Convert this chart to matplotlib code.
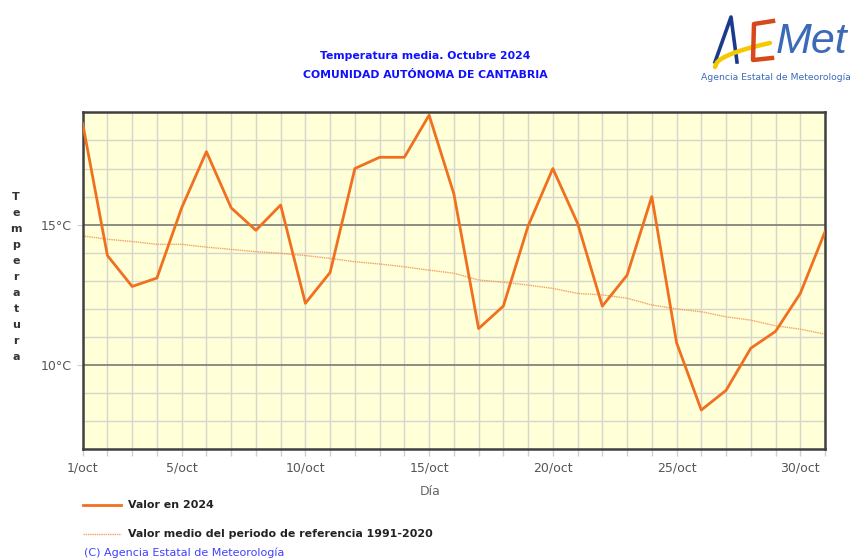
import numpy as np
import matplotlib.pyplot as plt
from matplotlib.lines import Line2D

# daily mean temperature, October 2024 (Cantabria)
dias = np.arange(1, 32)
valor_2024 = [18.6, 13.9, 12.8, 13.1, 15.6, 17.6, 15.6, 14.8, 15.7, 12.2,
              13.3, 17.0, 17.4, 17.4, 18.9, 16.1, 11.3, 12.1, 14.95, 17.0,
              15.05, 12.1, 13.2, 16.0, 10.8, 8.4, 9.1, 10.6, 11.2, 12.55, 14.75]
valor_medio = [14.6, 14.48, 14.4, 14.3, 14.3, 14.2, 14.12, 14.04, 13.98, 13.9,
               13.8, 13.68, 13.6, 13.5, 13.38, 13.27, 13.03, 12.95, 12.85, 12.73,
               12.55, 12.5, 12.38, 12.14, 12.0, 11.9, 11.72, 11.6, 11.4, 11.28, 11.1]
xtick_dias = [1, 5, 10, 15, 20, 25, 30]
xtick_labels = ['1/oct', '5/oct', '10/oct', '15/oct', '20/oct', '25/oct', '30/oct']
ytick_vals = [10, 15]
ytick_labels = ['10°C', '15°C']

naranja = '#f07020'
W, H = 856, 559
fig = plt.figure(figsize=(W / 100, H / 100), dpi=100)
ax = fig.add_axes([0.0966, 0.1962, 0.8672, 0.6028])
ax.set_facecolor('#ffffd8')

# grid
for d in dias:
    ax.axvline(d, color='#d6d6cc', lw=1.0, zorder=1)
for t in range(7, 20):
    if t in (10, 15):
        ax.axhline(t, color='#8c8c80', lw=1.4, zorder=1)
    else:
        ax.axhline(t, color='#d6d6cc', lw=1.0, zorder=1)

ax.plot(dias, valor_medio, color='#f5a060', lw=1.0, ls=(0, (1, 0.6)), zorder=2)
ax.plot(dias, valor_2024, color=naranja, lw=2.0, zorder=3)

ax.set_xlim(1, 31)
ax.set_ylim(7, 19)
ax.set_xticks(dias, minor=True)
ax.set_xticks(xtick_dias)
ax.set_xticklabels(xtick_labels)
ax.set_yticks(ytick_vals)
ax.set_yticklabels(ytick_labels)
ax.tick_params(axis='both', which='both', colors='#cfcfcf', labelcolor='#555555', labelsize=9)
ax.tick_params(axis='x', which='both', length=5, width=1, pad=4)
ax.tick_params(axis='y', length=4, pad=4)
for s in ax.spines.values():
    s.set_color('#404040')
    s.set_linewidth(1.8)

# vertical y label
fig.text(0.0187, 0.505, '\n'.join('Temperatura'), ha='center', va='center',
         fontsize=8, fontweight='bold', color='#333333', linespacing=1.75)
fig.text(0.5025, 0.12, 'Día', ha='center', va='center', fontsize=9, color='#666666')

# titles
fig.text(0.497, 0.9, 'Temperatura media. Octubre 2024', ha='center', va='center',
         fontsize=7.8, fontweight='bold', color='#1010ff')
fig.text(0.497, 0.865, 'COMUNIDAD AUTÓNOMA DE CANTABRIA', ha='center', va='center',
         fontsize=7.8, fontweight='bold', color='#1010ff')

# legend
fig.add_artist(Line2D([0.097, 0.141], [0.097, 0.097], color=naranja, lw=2))
fig.text(0.149, 0.097, 'Valor en 2024', va='center', fontsize=7.9, fontweight='bold', color='#222222')
fig.add_artist(Line2D([0.097, 0.141], [0.045, 0.045], color='#f5a060', lw=1, ls=(0, (1, 0.6))))
fig.text(0.149, 0.045, 'Valor medio del periodo de referencia 1991-2020', va='center',
         fontsize=7.9, fontweight='bold', color='#222222')
fig.text(0.098, 0.012, '(C) Agencia Estatal de Meteorología', va='center',
         fontsize=8.0, color='#4040ff')


# logo (pixel coords -> figure fraction)
def px(xs, ys):
    return [x / W for x in xs], [1 - y / H for y in ys]


fig.add_artist(Line2D(*px([715, 731, 737], [62, 17, 62]), color='#1a3a8a', lw=2.6,
                      solid_joinstyle='round'))
sx = np.linspace(715, 770, 30)
sy = 67 - 24 * np.sqrt((sx - 715) / 55)
fig.add_artist(Line2D(*px(sx, sy), color='#f5c800', lw=3.2, solid_capstyle='round'))
fig.add_artist(Line2D(*px([773, 754, 753, 772], [21, 24, 60, 58]), color='#d9481a', lw=3.2,
                      solid_joinstyle='round'))
fig.text(776 / W, 1 - 42 / H, 'Met', ha='left', va='center', fontsize=31, color='#3a6ab8',
         fontstyle='italic', family='Liberation Sans')
fig.text(776 / W, 1 - 78 / H, 'Agencia Estatal de Meteorología', ha='center', va='center',
         fontsize=6.7, color='#3a6ab8')

fig.savefig('out.png', dpi=100)
